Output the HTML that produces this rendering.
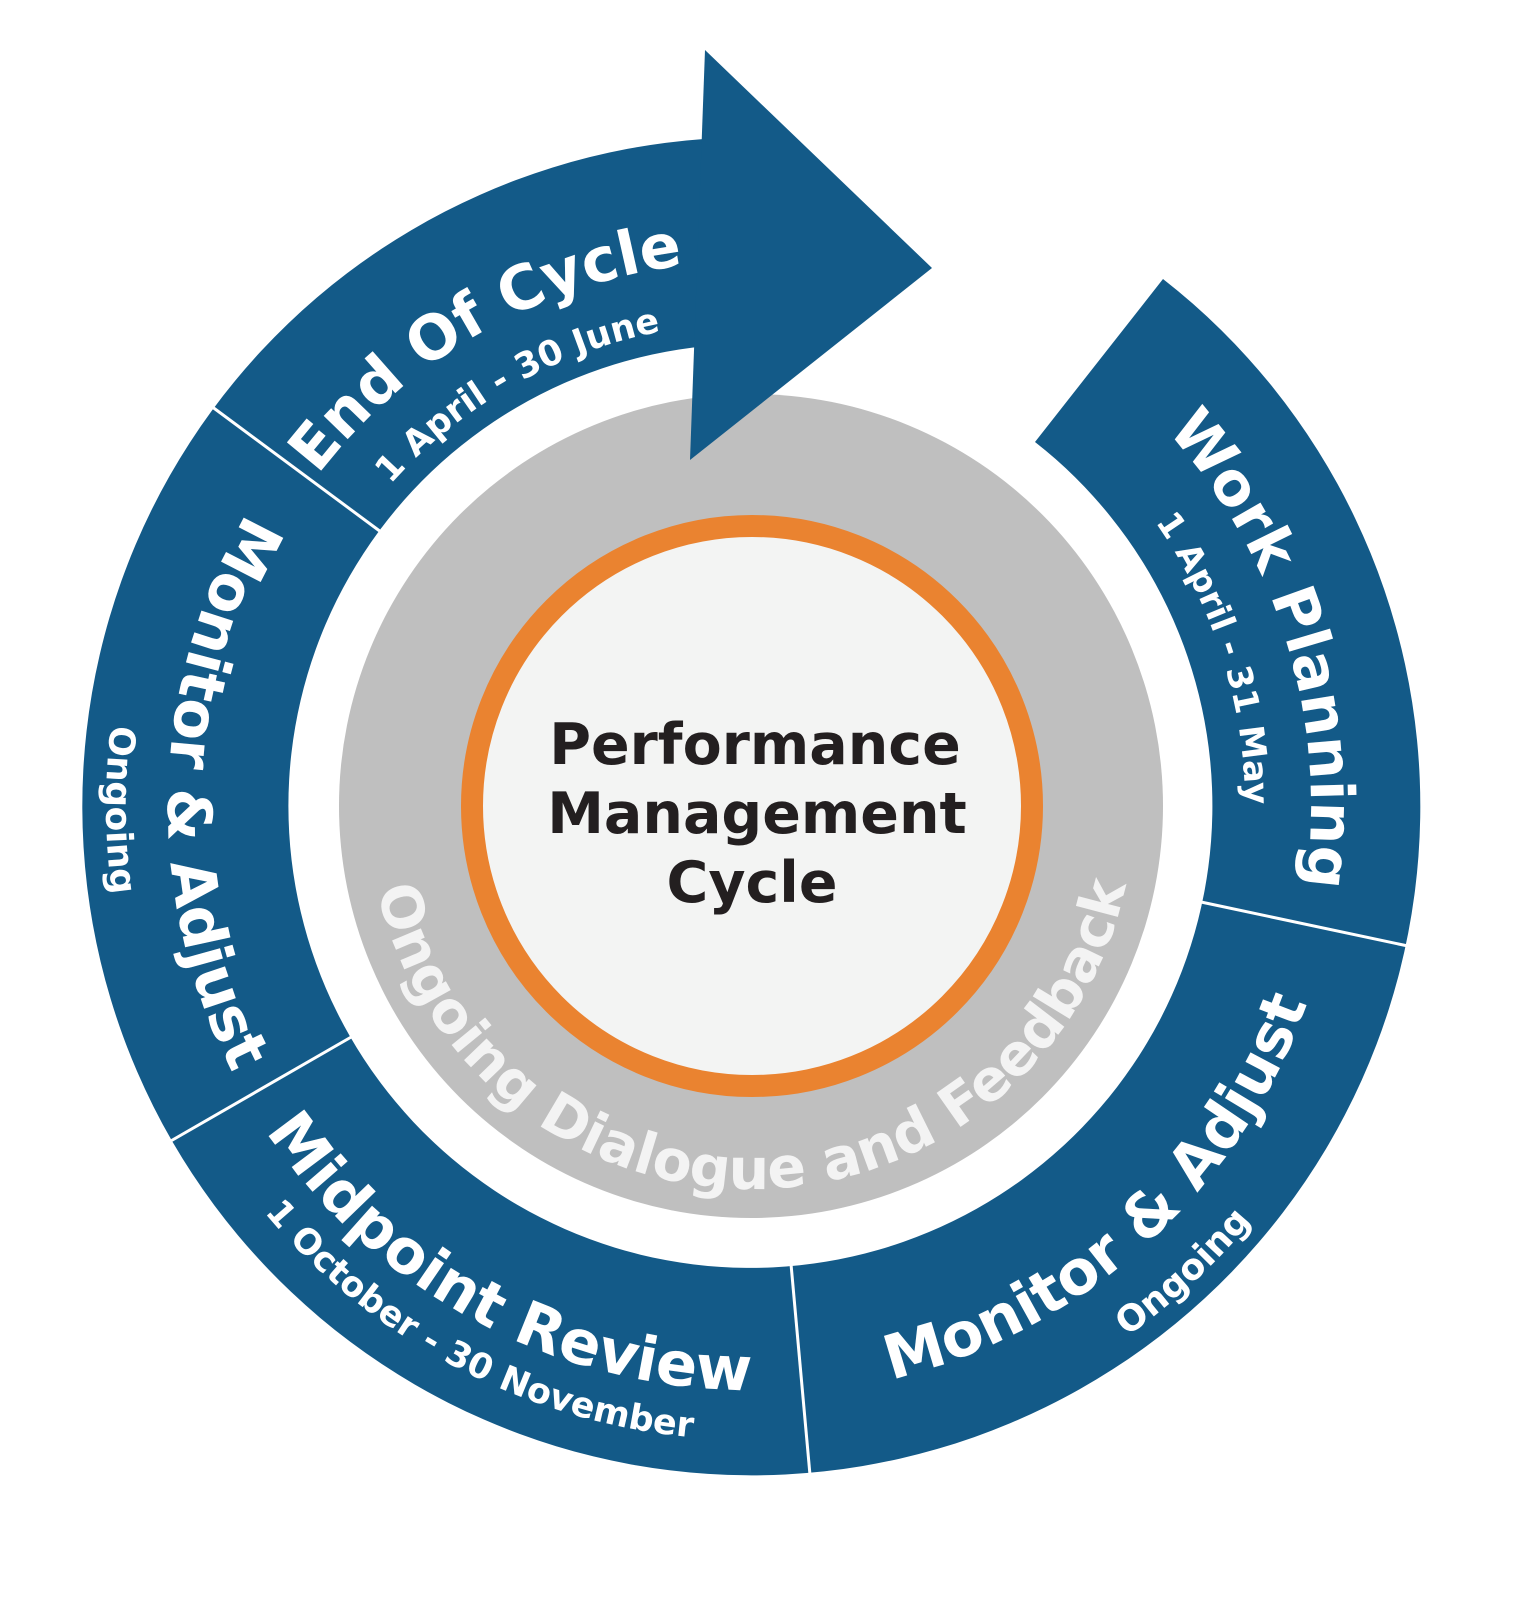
<!DOCTYPE html>
<html><head><meta charset="utf-8"><style>
html,body{margin:0;padding:0;background:#fff;}
svg{display:block;}
text{font-family:"DejaVu Sans","Liberation Sans",sans-serif;font-weight:bold;}
</style></head><body>
<svg width="1517" height="1600" viewBox="0 0 1517 1600" xmlns="http://www.w3.org/2000/svg">
<defs>
<path id="cw560" d="M191 806 A560 560 0 1 1 1311 806 A560 560 0 1 1 191 806"/>
<path id="cw494" d="M257 806 A494 494 0 1 1 1245 806 A494 494 0 1 1 257 806"/>
<path id="cw545" d="M206 806 A545 545 0 1 1 1296 806 A545 545 0 1 1 206 806"/>
<path id="cw483" d="M268 806 A483 483 0 1 1 1234 806 A483 483 0 1 1 268 806"/>
<path id="ccw583" d="M1334 806 A583 583 0 1 0 168 806 A583 583 0 1 0 1334 806"/>
<path id="ccw645" d="M1396 806 A645 645 0 1 0 106 806 A645 645 0 1 0 1396 806"/>
<path id="ccw584" d="M1335 806 A584 584 0 1 0 167 806 A584 584 0 1 0 1335 806"/>
<path id="ccw634" d="M1385 806 A634 634 0 1 0 117 806 A634 634 0 1 0 1385 806"/>
<path id="ccw590" d="M1341 806 A590 590 0 1 0 161 806 A590 590 0 1 0 1341 806"/>
<path id="ccw650" d="M1401 806 A650 650 0 1 0 101 806 A650 650 0 1 0 1401 806"/>
<path id="ccw383" d="M1134 806 A383 383 0 1 0 368 806 A383 383 0 1 0 1134 806"/>
</defs>

<circle cx="751" cy="806" r="412" fill="#bfbfbf"/>
<circle cx="752" cy="806" r="280" fill="#f3f4f3" stroke="#ea8330" stroke-width="22"/>

<path d="M1163 279 A669 669 0 1 1 704 139 L719 345 A462 462 0 1 0 1035 442 Z" fill="#135a88"/>
<polygon points="705,50 932,268 690,460" fill="#135a88"/>

<g stroke="#fff" stroke-width="3">
<line x1="1201" y1="902" x2="1408" y2="946"/>
<line x1="791" y1="1264" x2="810" y2="1475"/>
<line x1="353" y1="1036" x2="169" y2="1142"/>
<line x1="381" y1="532" x2="211" y2="406"/>
</g>

<g fill="#fff" text-anchor="middle">
<text font-size="60"><textPath href="#cw560" startOffset="45.3%">Work Planning</textPath></text>
<text font-size="34"><textPath href="#cw494" startOffset="45.1%">1 April - 31 May</textPath></text>
<text font-size="61"><textPath href="#cw545" startOffset="16.7%">End Of Cycle</textPath></text>
<text font-size="35"><textPath href="#cw483" startOffset="16.8%">1 April -  30 June</textPath></text>
<text font-size="61"><textPath href="#ccw583" startOffset="49.6%">Monitor &amp; Adjust</textPath></text>
<text font-size="36"><textPath href="#ccw645" startOffset="50.1%">Ongoing</textPath></text>
<text font-size="61"><textPath href="#ccw584" startOffset="67.2%">Midpoint Review</textPath></text>
<text font-size="35"><textPath href="#ccw634" startOffset="67.3%">1 October - 30 November</textPath></text>
<text font-size="61"><textPath href="#ccw590" startOffset="86.7%">Monitor &amp; Adjust</textPath></text>
<text font-size="36"><textPath href="#ccw650" startOffset="86.9%">Ongoing</textPath></text>
</g>
<text font-size="57" fill="#f3f3f3" text-anchor="middle"><textPath href="#ccw383" startOffset="75.1%">Ongoing Dialogue and Feedback</textPath></text>

<g fill="#231f20" font-size="57" text-anchor="middle">
<text x="755" y="764">Performance</text>
<text x="757" y="833">Management</text>
<text x="752" y="902">Cycle</text>
</g>
</svg>
</body></html>
